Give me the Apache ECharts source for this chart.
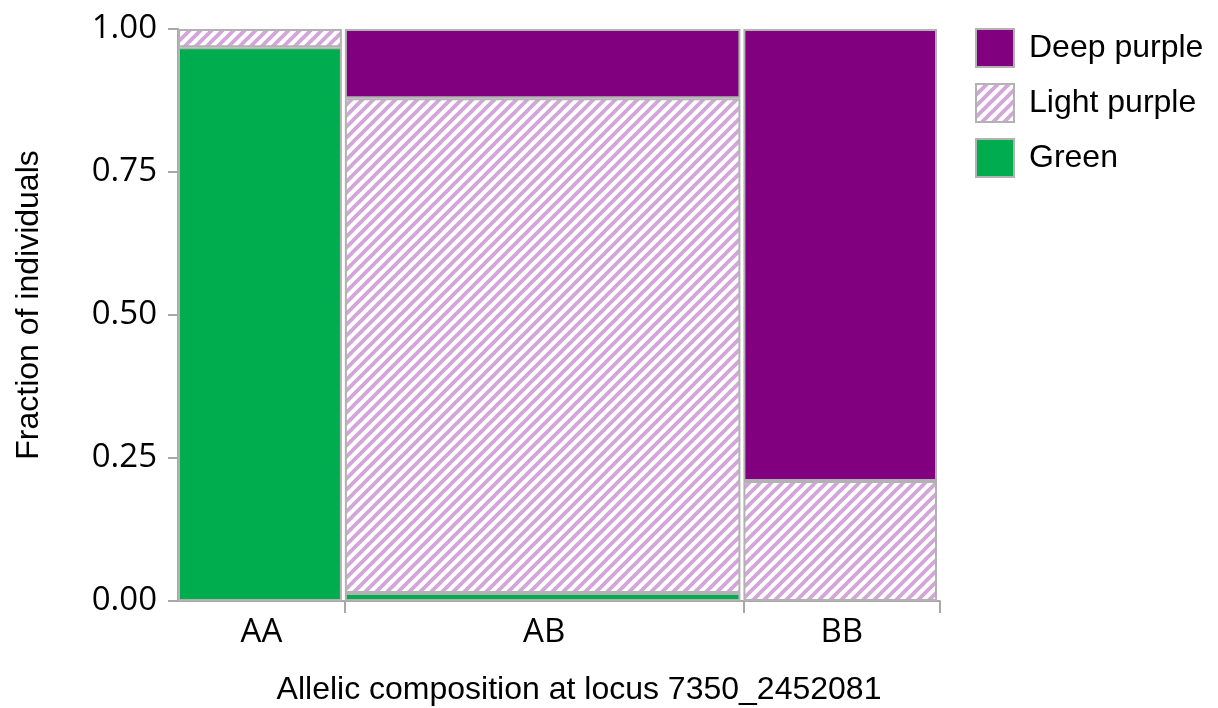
<!DOCTYPE html>
<html>
<head>
<meta charset="utf-8">
<script src="https://cdn.jsdelivr.net/npm/echarts@6/dist/echarts.min.js"></script>
<style>
  html, body { margin: 0; padding: 0; background: #ffffff; }
  #chart { width: 1218px; height: 708px; }
</style>
</head>
<body>
<div id="chart"></div>
<script>
// ---- data ----
const categories = ['AA', 'AB', 'BB'];
const colWidths = [0.219, 0.523, 0.258];       // share of individuals per genotype
const green = [0.968, 0.014, 0];               // fraction Green per genotype
const lightPurple = [0.032, 0.865, 0.21];      // fraction Light purple
const deepPurple = [0, 0.121, 0.79];           // fraction Deep purple
const seriesNames = ['Deep purple', 'Light purple', 'Green'];
const yTickLabels = ['0.00', '0.25', '0.50', '0.75', '1.00'];

// ---- styles ----
const BORDER = '#b2b2b2';
const DEEP = '#800080';
const GREEN = '#00ad4e';
function makeHatch() {
  const s = 11;
  const c = document.createElement('canvas');
  c.width = s; c.height = s;
  const g = c.getContext('2d');
  g.fillStyle = '#ffffff';
  g.fillRect(0, 0, s, s);
  g.strokeStyle = '#d2a6d8';
  g.lineWidth = 3.8;
  g.lineCap = 'square';
  for (const o of [-s, 0, s]) {
    g.beginPath();
    g.moveTo(o, s);
    g.lineTo(o + s, 0);
    g.stroke();
  }
  return c;
}
const HATCH = { image: makeHatch(), repeat: 'repeat' };
const fills = { 'Deep purple': DEEP, 'Light purple': HATCH, 'Green': GREEN };

// build rectangles [x0, x1, y0, y1] from the arrays (stack order bottom->top: green, light, deep)
const stacks = { 'Green': green, 'Light purple': lightPurple, 'Deep purple': deepPurple };
const order = ['Green', 'Light purple', 'Deep purple'];
function rectsFor(name) {
  const out = [];
  let x = 0;
  for (let i = 0; i < categories.length; i++) {
    let y = 0;
    for (const n of order) {
      const v = stacks[n][i];
      if (n === name && v > 0) out.push([x, x + colWidths[i], y, y + v]);
      y += v;
    }
    x += colWidths[i];
  }
  return out;
}
const boundaries = [];
const centers = [];
{
  let x = 0;
  for (let i = 0; i < colWidths.length; i++) {
    centers.push(x + colWidths[i] / 2);
    x += colWidths[i];
    boundaries.push(x);
  }
}

function renderer(name) {
  return function (params, api) {
    const p0 = api.coord([api.value(0), api.value(3)]);
    const p1 = api.coord([api.value(1), api.value(2)]);
    return {
      type: 'rect',
      shape: { x: p0[0] + 1, y: p0[1] + 1, width: p1[0] - p0[0] - 5, height: p1[1] - p0[1] - 2 },
      style: { fill: fills[name], stroke: BORDER, lineWidth: 2 }
    };
  };
}

const chart = echarts.init(document.getElementById('chart'), null, { renderer: 'canvas' });
const tickFont = '"Open Sans", "Noto Sans", sans-serif';
const titleFont = '"Liberation Sans", Arial, sans-serif';

chart.setOption({
  animation: false,
  backgroundColor: '#ffffff',
  grid: { left: 178, right: 278, top: 29, bottom: 107, containLabel: false },
  xAxis: {
    type: 'value', min: 0, max: 1,
    splitLine: { show: false },
    axisLine: { show: true, onZero: false, lineStyle: { color: '#a8a8a8', width: 2 } },
    axisTick: { show: true, length: 12, customValues: boundaries, lineStyle: { color: '#a8a8a8', width: 2 } },
    axisLabel: {
      show: true, customValues: centers, margin: 15,
      fontFamily: tickFont, fontSize: 33, color: '#000',
      formatter: function (v) {
        let best = 0;
        for (let i = 0; i < centers.length; i++) if (Math.abs(centers[i] - v) < Math.abs(centers[best] - v)) best = i;
        return categories[best];
      }
    }
  },
  yAxis: {
    type: 'value', min: 0, max: 1, interval: 0.25,
    splitLine: { show: false },
    axisLine: { show: true, lineStyle: { color: '#a8a8a8', width: 2 } },
    axisTick: { show: true, length: 10, lineStyle: { color: '#a8a8a8', width: 2 } },
    axisLabel: {
      margin: 21, fontFamily: tickFont, fontSize: 33, color: '#000',
      formatter: function (v) { return yTickLabels[Math.round(v / 0.25)]; }
    }
  },
  legend: {
    orient: 'vertical', left: 970, top: 23,
    itemWidth: 38, itemHeight: 38, itemGap: 15,
    icon: 'rect',
    textStyle: { fontFamily: titleFont, fontSize: 32, lineHeight: 38, color: '#000', padding: [0, 0, 0, 10] },
    data: seriesNames.map(function (n) {
      return { name: n, icon: 'rect', itemStyle: { color: fills[n], borderColor: BORDER, borderWidth: 2 } };
    })
  },
  graphic: [
    { type: 'text', x: 29, y: 305, rotation: Math.PI / 2,
      style: { text: 'Fraction of individuals', fontFamily: titleFont, fontSize: 32, fill: '#000', align: 'center', verticalAlign: 'middle' } },
    { type: 'text', x: 579, y: 690,
      style: { text: 'Allelic composition at locus 7350_2452081', fontFamily: titleFont, fontSize: 32, fill: '#000', align: 'center', verticalAlign: 'middle' } }
  ],
  series: seriesNames.map(function (n) {
    return {
      type: 'custom', name: n,
      renderItem: renderer(n),
      itemStyle: { color: fills[n], borderColor: BORDER, borderWidth: 2 },
      encode: { x: [0, 1], y: [2, 3] },
      data: rectsFor(n)
    };
  })
});
</script>
</body>
</html>
